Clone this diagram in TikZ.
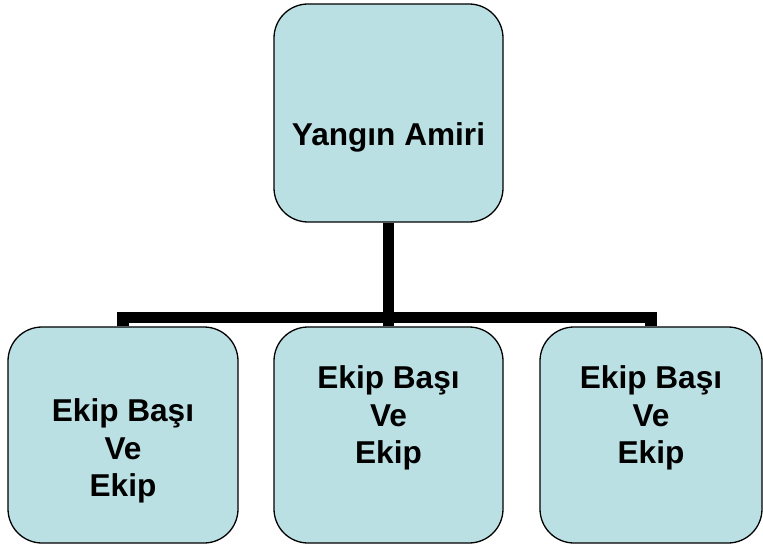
\documentclass[tikz,border=0pt]{standalone}
\usepackage{fontspec}
\setmainfont{Liberation Sans}
\usepackage{xcolor}
\definecolor{boxfill}{RGB}{187,224,227}

\begin{document}
\begin{tikzpicture}[x=1pt,y=-1pt,
  box/.style={rectangle,draw,line width=1.3pt,fill=boxfill,rounded corners=34pt,minimum height=216pt},
  txt/.style={align=center,font=\fontsize{31.6}{37.3}\selectfont\bfseries},
  conn/.style={line width=11.5pt}]
\useasboundingbox (0,0) rectangle (763,545);
\node[rectangle] at (388.5,113) [box,minimum width=229pt,minimum height=218pt,
  label={[txt,yshift=-24pt]center:Yangın Amiri}] (A) {};
\node[rectangle] at (123,435) [box,minimum width=230pt,
  label={[txt,yshift=-16pt]center:Ekip Başı\\Ve\\Ekip}] (E1) {};
\node[rectangle] at (388.5,435) [box,minimum width=229pt,
  label={[txt,yshift=17pt]center:Ekip Başı\\Ve\\Ekip}] (E2) {};
\node[rectangle] at (651,435) [box,minimum width=222pt,
  label={[txt,yshift=17pt]center:Ekip Başı\\Ve\\Ekip}] (E3) {};
\coordinate (bar) at (388.5,317.5);
\draw[conn] (A.south) -- (A.south |- bar);
\draw[conn] (E1.north) |- (bar) -| (E3.north);
\draw[conn] (E2.north) -- (E2.north |- bar);
\end{tikzpicture}
\end{document}
